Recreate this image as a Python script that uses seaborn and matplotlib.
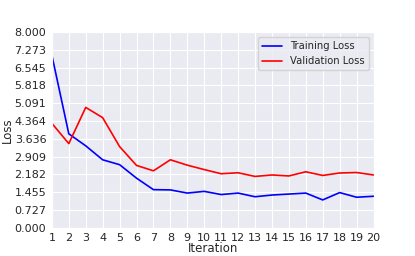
import numpy as np
import pandas as pd
import matplotlib
matplotlib.use("Agg")
import matplotlib.pyplot as plt
import seaborn as sns

iterations = list(range(1, 21))
train_loss = [7.05, 3.84, 3.35, 2.78, 2.58, 2.03, 1.56, 1.55, 1.42, 1.49,
              1.36, 1.42, 1.27, 1.34, 1.38, 1.42, 1.14, 1.44, 1.25, 1.29]
val_loss = [4.27, 3.44, 4.92, 4.50, 3.32, 2.55, 2.33, 2.78, 2.56, 2.38,
            2.21, 2.25, 2.10, 2.16, 2.12, 2.29, 2.14, 2.24, 2.26, 2.16]

sns.set_style("darkgrid")

fig, ax = plt.subplots(figsize=(4.15, 2.56), dpi=100)
sns.lineplot(x=iterations, y=train_loss, color="blue", label="Training Loss", ax=ax, linewidth=1.2)
sns.lineplot(x=iterations, y=val_loss, color="red", label="Validation Loss", ax=ax, linewidth=1.2)

ax.set_xlim(1, 20)
ax.set_ylim(0, 8)
ax.set_xticks(iterations)
yt = np.linspace(0, 8, 12)
ax.set_yticks(yt)
ax.set_yticklabels([f"{v:.3f}" for v in yt])
ax.tick_params(labelsize=8, pad=0.5)
ax.set_xlabel("Iteration", fontsize=8.5, labelpad=-1)
ax.set_ylabel("Loss", fontsize=8.5, labelpad=0)
ax.legend(loc="upper right", fontsize=7.2)

fig.subplots_adjust(left=0.125, right=0.9, top=0.875, bottom=0.11)
fig.savefig("out.png", dpi=100)
